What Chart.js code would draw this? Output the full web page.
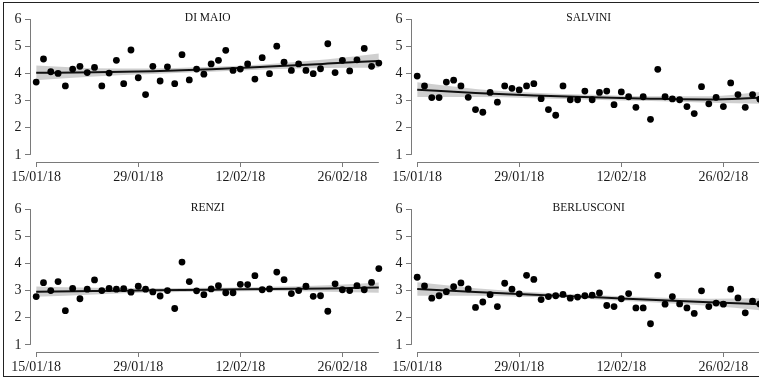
<!DOCTYPE html>
<html>
<head>
<meta charset="utf-8">
<script src="https://cdn.jsdelivr.net/npm/chart.js@4.4.1/dist/chart.umd.min.js"></script>
<style>
  html, body { margin: 0; padding: 0; background: #fff; }
  body { width: 759px; height: 381px; overflow: hidden; position: relative; }
  .panel { position: absolute; }
  .frame { position: absolute; left: 3px; top: 2px; width: 820px; height: 375px;
           border: 1.5px solid #222; box-sizing: border-box; pointer-events: none; }
</style>
</head>
<body>
<canvas class="panel" id="p0" width="392" height="190" style="left:0;top:0"></canvas>
<canvas class="panel" id="p1" width="392" height="190" style="left:381px;top:0"></canvas>
<canvas class="panel" id="p2" width="392" height="190" style="left:0;top:190px"></canvas>
<canvas class="panel" id="p3" width="392" height="190" style="left:381px;top:190px"></canvas>
<div class="frame"></div>
<script>
/* days since 15/01/18, one poll per day */
const days = [0, 1, 2, 3, 4, 5, 6, 7, 8, 9, 10, 11, 12, 13, 14, 15, 16, 17, 18, 19, 20, 21, 22, 23,
              24, 25, 26, 27, 28, 29, 30, 31, 32, 33, 34, 35, 36, 37, 38, 39, 40, 41, 42, 43, 44, 45, 46, 47];
const tickDays = [0, 14, 28, 42];
const tickLabels = ['15/01/18', '29/01/18', '12/02/18', '26/02/18'];
const yTicks = [1, 2, 3, 4, 5, 6];
const fitDays = [0, 8, 16, 24, 32, 40, 47];

const diMaio = [3.68, 4.53, 4.06, 4.00, 3.54, 4.16, 4.26, 4.03, 4.22, 3.54, 4.01, 4.48,
                3.62, 4.86, 3.84, 3.22, 4.26, 3.72, 4.24, 3.62, 4.69, 3.76, 4.16, 3.97,
                4.35, 4.48, 4.85, 4.11, 4.16, 4.35, 3.79, 4.58, 3.99, 5.00, 4.41, 4.11,
                4.35, 4.11, 3.99, 4.17, 5.09, 4.03, 4.48, 4.09, 4.50, 4.92, 4.26, 4.38];
const diMaioFit = [4.02, 4.04, 4.08, 4.15, 4.25, 4.36, 4.46];
const diMaioLo  = [3.75, 3.89, 3.98, 4.06, 4.15, 4.20, 4.21];
const diMaioHi  = [4.29, 4.19, 4.18, 4.24, 4.35, 4.52, 4.73];

const salvini = [3.90, 3.54, 3.11, 3.11, 3.68, 3.75, 3.54, 3.12, 2.67, 2.57, 3.30, 2.94,
                 3.54, 3.45, 3.39, 3.54, 3.62, 3.07, 2.67, 2.46, 3.54, 3.03, 3.03, 3.35,
                 3.03, 3.30, 3.35, 2.85, 3.32, 3.14, 2.75, 3.14, 2.31, 4.15, 3.14, 3.06,
                 3.03, 2.78, 2.52, 3.51, 2.88, 3.12, 2.78, 3.65, 3.22, 2.75, 3.22, 3.05];
const salviniFit = [3.40, 3.28, 3.19, 3.12, 3.07, 3.04, 3.10];
const salviniLo  = [3.13, 3.13, 3.09, 3.03, 2.98, 2.92, 2.88];
const salviniHi  = [3.67, 3.43, 3.29, 3.21, 3.16, 3.16, 3.32];

const renzi = [2.78, 3.29, 3.00, 3.33, 2.26, 3.08, 2.70, 3.05, 3.39, 3.00, 3.08, 3.05,
               3.07, 2.94, 3.16, 3.05, 2.95, 2.80, 3.00, 2.34, 4.05, 3.33, 2.99, 2.85,
               3.06, 3.18, 2.92, 2.92, 3.23, 3.22, 3.55, 3.03, 3.06, 3.68, 3.40, 2.89,
               3.00, 3.16, 2.79, 2.81, 2.24, 3.25, 3.03, 3.00, 3.18, 3.03, 3.30, 3.81];
const renziFit = [2.96, 2.98, 3.01, 3.03, 3.06, 3.08, 3.11];
const renziLo  = [2.77, 2.86, 2.93, 2.96, 2.98, 2.96, 2.92];
const renziHi  = [3.15, 3.10, 3.09, 3.10, 3.14, 3.20, 3.30];

const berlusconi = [3.49, 3.17, 2.72, 2.81, 2.96, 3.14, 3.28, 3.06, 2.38, 2.58, 2.85, 2.41,
                    3.27, 3.05, 2.88, 3.56, 3.41, 2.67, 2.78, 2.81, 2.86, 2.72, 2.76, 2.81,
                    2.83, 2.91, 2.45, 2.41, 2.70, 2.89, 2.36, 2.36, 1.78, 3.56, 2.50, 2.78,
                    2.51, 2.36, 2.16, 2.99, 2.41, 2.54, 2.50, 3.05, 2.73, 2.18, 2.61, 2.51];
const berlusconiFit = [3.06, 2.95, 2.85, 2.76, 2.66, 2.57, 2.50];
const berlusconiLo  = [2.81, 2.81, 2.76, 2.68, 2.57, 2.44, 2.28];
const berlusconiHi  = [3.31, 3.09, 2.94, 2.84, 2.75, 2.70, 2.72];

const panels = [
  { id: 'p0', title: 'DI MAIO', pts: diMaio, fit: diMaioFit, lo: diMaioLo, hi: diMaioHi },
  { id: 'p1', title: 'SALVINI', pts: salvini, fit: salviniFit, lo: salviniLo, hi: salviniHi },
  { id: 'p2', title: 'RENZI', pts: renzi, fit: renziFit, lo: renziLo, hi: renziHi },
  { id: 'p3', title: 'BERLUSCONI', pts: berlusconi, fit: berlusconiFit, lo: berlusconiLo, hi: berlusconiHi },
];

Chart.defaults.font.family = '"Liberation Serif", "Times New Roman", serif';
Chart.defaults.color = '#1a1a1a';

const AXIS = '#7a7a7a';
const xy = (xs, ys) => xs.map((x, i) => ({ x, y: ys[i] }));

/* R-style detached axes plus the facet title inside the plot */
const rAxes = {
  id: 'rAxes',
  afterDraw(chart, args, opts) {
    const { ctx, chartArea, scales } = chart;
    ctx.save();
    ctx.strokeStyle = AXIS;
    ctx.lineWidth = 1;
    ctx.beginPath();
    const xl = Math.round(chartArea.left) + 0.5;
    ctx.moveTo(xl, scales.y.getPixelForValue(yTicks[0]));
    ctx.lineTo(xl, scales.y.getPixelForValue(yTicks[yTicks.length - 1]));
    const yb = Math.round(chartArea.bottom) + 0.5;
    ctx.moveTo(scales.x.getPixelForValue(days[0]), yb);
    ctx.lineTo(scales.x.getPixelForValue(days[days.length - 1]), yb);
    ctx.stroke();
    ctx.fillStyle = '#111';
    ctx.font = '11.5px "Liberation Serif", serif';
    ctx.textAlign = 'center';
    ctx.textBaseline = 'middle';
    ctx.fillText(opts.title, (chartArea.left + chartArea.right) / 2, 18);
    ctx.restore();
  }
};

panels.forEach(p => {
  new Chart(document.getElementById(p.id), {
    type: 'line',
    data: {
      datasets: [
        { data: xy(days, p.pts), showLine: false, pointRadius: 3.4, pointBorderWidth: 0,
          pointBackgroundColor: '#000', borderColor: '#000' },
        { data: xy(fitDays, p.fit), borderColor: '#111', borderWidth: 2, pointRadius: 0,
          cubicInterpolationMode: 'monotone', fill: false },
        { data: xy(fitDays, p.hi), borderWidth: 0, borderColor: 'rgba(0,0,0,0)', pointRadius: 0,
          cubicInterpolationMode: 'monotone', fill: '+1', backgroundColor: 'rgba(0,0,0,0.19)' },
        { data: xy(fitDays, p.lo), borderWidth: 0, borderColor: 'rgba(0,0,0,0)', pointRadius: 0,
          cubicInterpolationMode: 'monotone', fill: false },
      ]
    },
    options: {
      responsive: false,
      animation: false,
      devicePixelRatio: 1,
      layout: { padding: { left: 0, right: 6.6, top: 13.6, bottom: 0 } },
      plugins: {
        legend: { display: false },
        tooltip: { enabled: false },
        rAxes: { title: p.title },
      },
      scales: {
        x: {
          type: 'linear', min: -0.85, max: 47.9,
          afterBuildTicks: s => { s.ticks = tickDays.map(v => ({ value: v })); },
          afterFit: s => { s.height = 28; },
          grid: { drawOnChartArea: false, drawTicks: true, tickLength: 5, color: AXIS },
          border: { display: false },
          ticks: { font: { size: 14 }, padding: 2, maxRotation: 0, autoSkip: false,
                   callback: v => tickLabels[tickDays.indexOf(v)] },
        },
        y: {
          min: 0.74, max: 6.2,
          afterBuildTicks: s => { s.ticks = yTicks.map(v => ({ value: v })); },
          afterFit: s => { s.width = 30; },
          grid: { drawOnChartArea: false, drawTicks: true, tickLength: 5, color: AXIS },
          border: { display: false },
          ticks: { font: { size: 14 }, padding: 3.5 },
        },
      },
    },
    plugins: [rAxes],
  });
});
</script>
</body>
</html>
